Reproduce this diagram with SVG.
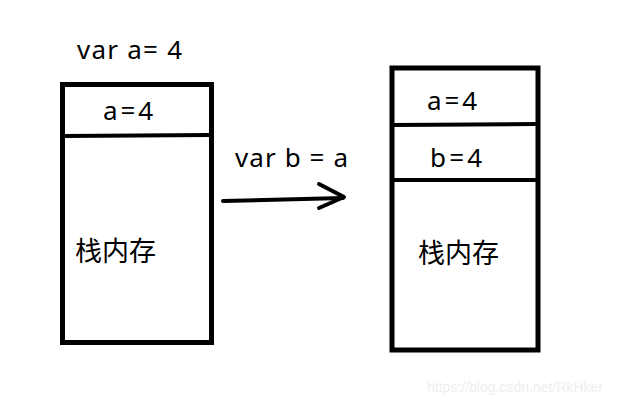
<svg xmlns="http://www.w3.org/2000/svg" width="635" height="405" viewBox="0 0 635 405">
<style>
.box{fill:none;stroke:#000;stroke-width:5}
.ln{stroke:#000;stroke-width:4;fill:none;stroke-linecap:round;stroke-linejoin:round}
.t{font-family:"Noto Sans","Noto Sans CJK SC",sans-serif;font-size:26px;fill:#000}
.c{font-family:"Noto Sans CJK SC",sans-serif;font-size:27px;fill:#000}
.wm{font-family:"Liberation Sans",Arial,sans-serif;font-size:14px;fill:#eeeeee}
</style>
<rect width="635" height="405" fill="#fff"/>
<text class="t" x="77" y="59" textLength="105" lengthAdjust="spacing">var a= 4</text>
<g id="stackA">
<rect class="box" x="62.5" y="84.5" width="149" height="258"/>
<line class="ln" x1="64" y1="136" x2="210" y2="135"/>
<text class="t" x="103" y="120" textLength="50" lengthAdjust="spacing">a=4</text>
<text class="c" x="75" y="261">栈内存</text>
</g>
<g id="stackB">
<rect class="box" x="392" y="68" width="146" height="282"/>
<line class="ln" x1="394" y1="125" x2="536" y2="124"/>
<line class="ln" x1="394" y1="180" x2="536" y2="180"/>
<text class="t" x="427" y="110" textLength="50" lengthAdjust="spacing">a=4</text>
<text class="t" x="430" y="167" textLength="52" lengthAdjust="spacing">b=4</text>
<text class="c" x="418" y="263">栈内存</text>
</g>
<g id="connectors">
<line class="ln" x1="223" y1="201" x2="343" y2="198"/>
<polyline class="ln" points="319,184 344,197 319,208"/>
<text class="t" x="235" y="167" textLength="113" lengthAdjust="spacing">var b = a</text>
</g>
<text class="wm" x="427" y="392">https://blog.csdn.net/RkHker</text>
</svg>
